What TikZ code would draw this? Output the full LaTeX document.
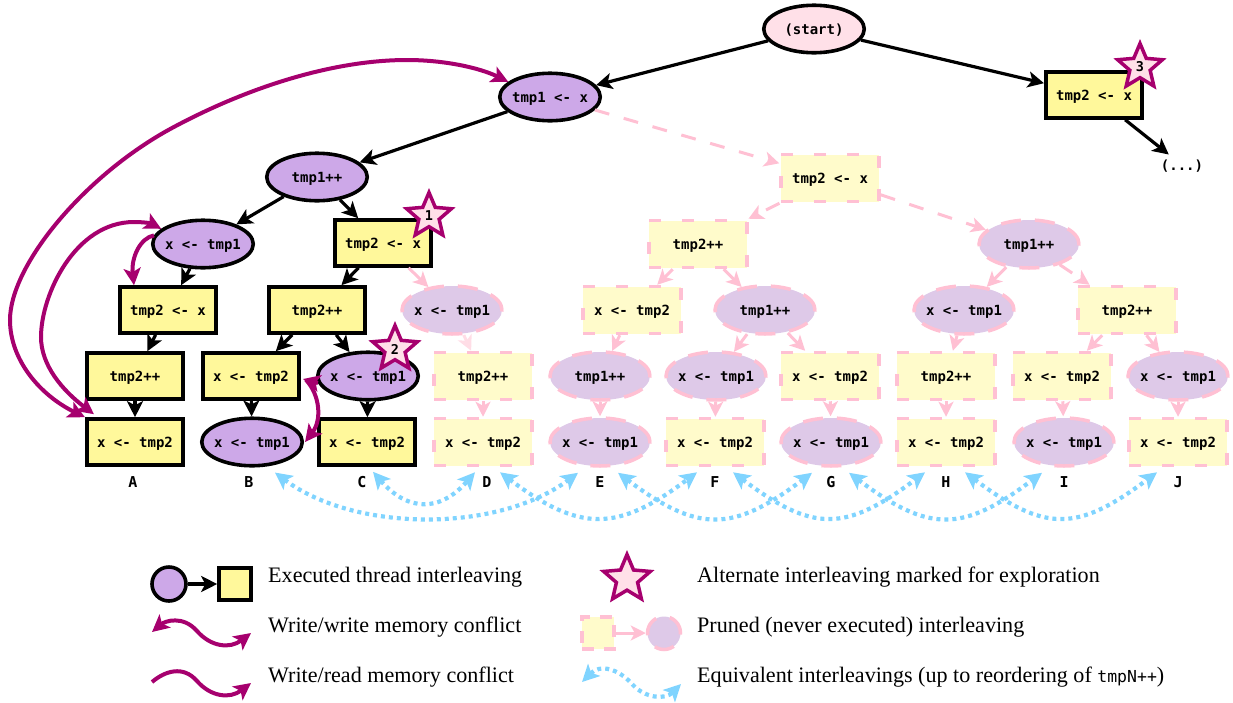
\documentclass[tikz,border=0pt]{standalone}
\usepackage{fontspec}
\setmainfont{Liberation Serif}
\newfontfamily\cmono{DejaVu Sans Mono}
\usetikzlibrary{shapes.geometric,arrows.meta}
\definecolor{cpur}{HTML}{CDA8E8}
\definecolor{cyel}{HTML}{FFF89B}
\definecolor{cpy}{HTML}{FFFBCB}
\definecolor{cpp}{HTML}{DEC9E8}
\definecolor{cpink}{HTML}{FFC0D3}
\definecolor{cpale}{HTML}{FFDDE6}
\definecolor{cblue}{HTML}{80D4FF}
\definecolor{cconf}{HTML}{A6006E}
\definecolor{cstar}{HTML}{FFE0E8}
\tikzset{
  base/.style={inner sep=0pt,font=\cmono\bfseries\fontsize{14pt}{16pt}\selectfont,text height=13pt,text depth=2pt},
  xr/.style={base,rectangle,draw=black,line width=3.6pt,fill=cyel,minimum width=96.5pt,minimum height=46pt},
  xe/.style={base,ellipse,draw=black,line width=3.6pt,fill=cpur,minimum width=100.5pt,minimum height=47.5pt,inner xsep=-14pt},
  pr/.style={base,rectangle,draw=cpink,line width=3.5pt,fill=cpy,dash pattern=on 12pt off 21pt,minimum width=98pt,minimum height=47pt},
  pe/.style={base,ellipse,draw=cpink,line width=3.5pt,fill=cpp,dash pattern=on 20pt off 14pt,minimum width=100pt,minimum height=48pt,inner xsep=-14pt},
  sn/.style={star,star points=5,star point ratio=2.2,minimum size=47pt,inner sep=0pt,draw=cconf,fill=cstar,line width=3.5pt,font=\cmono\bfseries\fontsize{13.5pt}{15pt}\selectfont},
  lab/.style={inner sep=0pt,font=\cmono\bfseries\fontsize{15pt}{16pt}\selectfont},
  ar/.style={draw=black,line width=3.2pt,-{Stealth[length=16pt,width=16pt,inset=4pt]}},
  pa/.style={draw=cpink,line width=3pt,-{Stealth[length=15pt,width=15pt,inset=4pt]}},
  pd/.style={draw=cpink,line width=3pt,dash pattern=on 15pt off 15pt,-{Stealth[length=15pt,width=15pt,inset=4pt]}},
  cf/.style={draw=cconf,line width=4pt,-{Stealth[length=17pt,width=17pt,inset=4pt]}},
  cfd/.style={draw=cconf,line width=4pt,{Stealth[length=17pt,width=17pt,inset=4pt]}-{Stealth[length=17pt,width=17pt,inset=4pt]}},
  bl/.style={draw=cblue,line width=4.2pt,dash pattern=on 4pt off 4pt,{Stealth[length=17pt,width=17pt,inset=4pt]}-{Stealth[length=17pt,width=17pt,inset=4pt]}},
  leg/.style={inner sep=0pt,anchor=west,font=\fontsize{22.1pt}{24pt}\selectfont},
}
\begin{document}
\begin{tikzpicture}[x=1pt,y=-1pt]
\useasboundingbox (0,0) rectangle (1233,702);
% executed
\node[base,ellipse,draw=black,line width=3.6pt,fill=cstar,minimum width=100.5pt,minimum height=47.5pt,inner xsep=-14pt] (st) at (814,29) {(start)};
\node[xe] (t1) at (550,97) {tmp1 <- x};
\node[xr] (r3) at (1094,95) {tmp2 <- x};
\node[base,outer sep=3pt] (dots) at (1182,165) {(...)};
\node[xe] (a1) at (317,177) {tmp1++};
\node[xe] (a2) at (203,244) {x <- tmp1};
\node[xr] (b2) at (383,243) {tmp2 <- x};
\node[xr] (a3) at (168,310) {tmp2 <- x};
\node[xr] (b3) at (317,310) {tmp2++};
\node[xr] (a4) at (135,376) {tmp2++};
\node[xr] (b4) at (251,376) {x <- tmp2};
\node[xe] (c4) at (368,376) {x <- tmp1};
\node[xr] (nA) at (135,442) {x <- tmp2};
\node[xe] (nB) at (252,442) {x <- tmp1};
\node[xr] (nC) at (367,442) {x <- tmp2};
% pruned
\node[pe] (d3) at (452,310) {x <- tmp1};
\node[pr] (d4) at (483,376) {tmp2++};
\node[pr] (nD) at (483,442) {x <- tmp2};
\node[pr] (p1) at (830,178) {tmp2 <- x};
\node[pr] (p2) at (698,244) {tmp2++};
\node[pe] (p3) at (1029,244) {tmp1++};
\node[pr] (e3) at (632,310) {x <- tmp2};
\node[pe] (f3) at (765,310) {tmp1++};
\node[pe] (h3) at (964,310) {x <- tmp1};
\node[pr] (j3) at (1127,310) {tmp2++};
\node[pe] (e4) at (600,376) {tmp1++};
\node[pe] (f4) at (716,376) {x <- tmp1};
\node[pr] (g4) at (830,376) {x <- tmp2};
\node[pr] (h4) at (946,376) {tmp2++};
\node[pr] (i4) at (1062,376) {x <- tmp2};
\node[pe] (j4) at (1178,376) {x <- tmp1};
\node[pe] (nE) at (600,442) {x <- tmp1};
\node[pr] (nF) at (715,442) {x <- tmp2};
\node[pe] (nG) at (831,442) {x <- tmp1};
\node[pr] (nH) at (946,442) {x <- tmp2};
\node[pe] (nI) at (1064,442) {x <- tmp1};
\node[pr] (nJ) at (1178,442) {x <- tmp2};
% letters
\node[lab] (lA) at (133,482) {A};
\node[lab] (lB) at (249,482) {B};
\node[lab] (lC) at (362,482) {C};
\node[lab] (lD) at (487,482) {D};
\node[lab] (lE) at (600,482) {E};
\node[lab] (lF) at (715,482) {F};
\node[lab] (lG) at (831,482) {G};
\node[lab] (lH) at (946,482) {H};
\node[lab] (lI) at (1064,482) {I};
\node[lab] (lJ) at (1178,482) {J};
% black edges
\draw[ar] (st) -- (t1);
\draw[ar] (st) -- (r3);
\draw[ar] (r3) -- (dots);
\draw[ar] (t1) -- (a1);
\draw[ar] (a1) -- (a2);
\draw[ar] (a1) -- (b2);
\draw[ar] (a2) -- (a3);
\draw[ar] (b2) -- (b3);
\draw[ar] (a3) -- (a4);
\draw[ar] (b3) -- (b4);
\draw[ar] (b3) -- (c4);
\draw[ar] (a4) -- (nA);
\draw[ar] (b4) -- (nB);
\draw[ar] (c4) -- (nC);
% pruned edges
\draw[pd] (t1) -- (p1);
\draw[pd] (p1) -- (p3);
\draw[pd] (p1) -- (p2);
\draw[pa] (b2) -- (d3);
\draw[draw=cpale,line width=3pt,-{Stealth[length=15pt,width=15pt,inset=4pt]}] (d3) -- (d4);
\draw[pa] (d4) -- (nD);
\draw[pa] (p2) -- (e3);
\draw[pa] (p2) -- (f3);
\draw[pa] (p3) -- (h3);
\draw[pd] (p3) -- (j3);
\draw[pa] (e3) -- (e4);
\draw[pa] (f3) -- (f4);
\draw[pa] (f3) -- (g4);
\draw[pa] (h3) -- (h4);
\draw[pa] (j3) -- (i4);
\draw[pa] (j3) -- (j4);
\draw[pa] (e4) -- (nE);
\draw[pa] (f4) -- (nF);
\draw[pa] (g4) -- (nG);
\draw[pa] (h4) -- (nH);
\draw[pa] (i4) -- (nI);
\draw[pa] (j4) -- (nJ);
% conflicts
\draw[cfd] (nA.north west) .. controls (40,395) and (10,360) .. (10,320) .. controls (10,265) and (85,175) .. (172,128) .. controls (250,86) and (335,60) .. (407,60) .. controls (445,60) and (480,68) .. (t1.160);
\draw[cfd] ([shift={(9,-3)}]nA.north west) .. controls (62,390) and (41,365) .. (41,337) .. controls (41,295) and (75,222) .. (134,222) .. controls (142,222) and (150,223) .. (a2.160);
\draw[cf] (a2.170) .. controls (140,238) and (131,258) .. ([shift={(-34,0)}]a3.north);
\draw[cf] (c4.188) -- ([shift={(2,3)}]b4.east);
\draw[cf] ([shift={(5,4)}]b4.east) .. controls (320,395) and (322,420) .. ([shift={(1,0)}]nB.east);
% stars
\node[sn] (s1) at (429,216) {1};
\node[sn] (s2) at (395,349) {2};
\node[sn] (s3) at (1140,67) {3};
% equivalences
\draw[bl] ([shift={(23,5)}]nB.south) .. controls +(80,60) and +(-80,60) .. ([shift={(-22,5)}]nE.south);
\draw[bl] ([shift={(6,5)}]nC.south) .. controls +(35,40) and +(-35,40) .. ([shift={(-8,5)}]nD.south);
\draw[bl] ([shift={(17,5)}]nD.south) .. controls +(80,60) and +(-80,60) .. ([shift={(-18,5)}]nF.south);
\draw[bl] ([shift={(18,5)}]nE.south) .. controls +(80,60) and +(-80,60) .. ([shift={(-19,5)}]nG.south);
\draw[bl] ([shift={(18,5)}]nF.south) .. controls +(80,60) and +(-80,60) .. ([shift={(-21,5)}]nH.south);
\draw[bl] ([shift={(18,5)}]nG.south) .. controls +(80,60) and +(-80,60) .. ([shift={(-22,5)}]nI.south);
\draw[bl] ([shift={(19,5)}]nH.south) .. controls +(80,60) and +(-80,60) .. ([shift={(-21,5)}]nJ.south);
% legend
\node[circle,draw=black,line width=3.6pt,fill=cpur,minimum size=34pt,inner sep=0pt] (lc) at (169,584) {};
\node[rectangle,draw=black,line width=3.6pt,fill=cyel,minimum size=32pt,inner sep=0pt] (ls) at (235,584) {};
\draw[ar] (lc) -- (ls);
\coordinate (w1a) at (152,632); \coordinate (w1b) at (251,633);
\draw[cfd] (w1a) .. controls (165,621) and (183,615) .. (197,631) .. controls (211,647) and (230,649) .. (w1b);
\coordinate (w2a) at (152,682); \coordinate (w2b) at (251,683);
\draw[cf] (w2a) .. controls (165,671) and (183,665) .. (197,681) .. controls (211,697) and (230,699) .. (w2b);
\node[sn,minimum size=49pt] (ls3) at (627,579) {};
\node[rectangle,draw=cpink,line width=3.5pt,fill=cpy,dash pattern=on 12pt off 10pt,minimum size=32pt,inner sep=0pt] (lp) at (598,633) {};
\node[circle,draw=cpink,line width=3.5pt,fill=cpp,dash pattern=on 20pt off 14pt,minimum size=33pt,inner sep=0pt] (lq) at (664,633) {};
\draw[pa] (lp) -- (lq);
\coordinate (b1a) at (582,682); \coordinate (b1b) at (681,684);
\draw[bl] (b1a) .. controls (600,664) and (618,668) .. (633,685) .. controls (645,698) and (665,700) .. (b1b);
\node[leg] (t1l) at (268,577) {Executed thread interleaving};
\node[leg] (t2l) at (268,627) {Write/write memory conflict};
\node[leg] (t3l) at (268,677) {Write/read memory conflict};
\node[leg] (t4l) at (697,577) {Alternate interleaving marked for exploration};
\node[leg] (t5l) at (697,627) {Pruned (never executed) interleaving};
\node[leg] (t6l) at (697,677) {Equivalent interleavings (up to reordering of {\cmono\fontsize{16.5pt}{18pt}\selectfont tmpN++})};
\end{tikzpicture}
\end{document}
